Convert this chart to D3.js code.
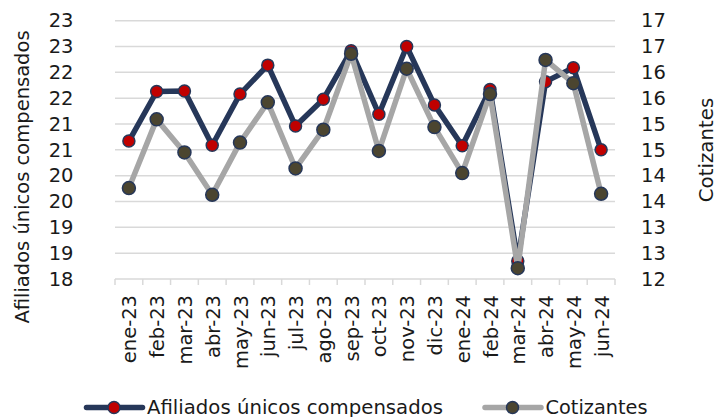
<!DOCTYPE html>
<html>
<head>
<meta charset="utf-8">
<script src="https://cdn.jsdelivr.net/npm/d3@7"></script>
<style>
  body { margin: 0; background: #fff; }
  svg { display: block; font-family: "DejaVu Sans", Verdana, sans-serif; }
</style>
</head>
<body>
<svg></svg>
<script>
var width = 719,
    height = 417;

var months = ["ene-23", "feb-23", "mar-23", "abr-23", "may-23", "jun-23", "jul-23", "ago-23", "sep-23",
              "oct-23", "nov-23", "dic-23", "ene-24", "feb-24", "mar-24", "abr-24", "may-24", "jun-24"];
var afiliados = [20.67, 21.63, 21.64, 20.59, 21.58, 22.14, 20.96, 21.48, 22.42,
                 21.19, 22.50, 21.37, 20.58, 21.67, 18.35, 21.82, 22.09, 20.50];
var cotizantes = [13.76, 15.09, 14.45, 13.63, 14.64, 15.42, 14.14, 14.89, 16.36,
                  14.48, 16.07, 14.94, 14.05, 15.58, 12.21, 16.24, 15.79, 13.65];
var leftTicks = [18, 18.5, 19, 19.5, 20, 20.5, 21, 21.5, 22, 22.5, 23];
var rightTicks = [12, 12.5, 13, 13.5, 14, 14.5, 15, 15.5, 16, 16.5, 17];
var names = ["Afiliados únicos compensados", "Cotizantes"];

var margin = {top: 20.7, right: 104, bottom: 138, left: 115};
var ink = "#1a1a1a";

var svg = d3.select("svg")
    .attr("width", width)
    .attr("height", height);

var x = d3.scaleBand()
    .domain(months)
    .range([margin.left, width - margin.right]);

var yLeft = d3.scaleLinear()
    .domain([18, 23])
    .range([height - margin.bottom, margin.top]);

var yRight = d3.scaleLinear()
    .domain([12, 17])
    .range([height - margin.bottom, margin.top]);

var fmt = function(d) { return Math.round(d); };

// grid
svg.append("g")
    .selectAll("line")
    .data(leftTicks.slice(1))
    .enter()
    .append("line")
    .attr("x1", margin.left)
    .attr("x2", width - margin.right)
    .attr("y1", function(d) { return yLeft(d); })
    .attr("y2", function(d) { return yLeft(d); })
    .attr("stroke", "#d9d9d9")
    .attr("stroke-width", 1.5);

// left axis
var gl = svg.append("g")
    .attr("transform", "translate(" + 73.5 + ",0)")
    .call(d3.axisLeft(yLeft).tickValues(leftTicks).tickFormat(fmt).tickSize(0).tickPadding(0));
gl.select(".domain").remove();
gl.selectAll("text")
    .attr("font-size", 19.5)
    .attr("fill", ink)
    .attr("font-family", "DejaVu Sans");

// right axis
var gr = svg.append("g")
    .attr("transform", "translate(" + 641 + ",0)")
    .call(d3.axisRight(yRight).tickValues(rightTicks).tickFormat(fmt).tickSize(0).tickPadding(0));
gr.select(".domain").remove();
gr.selectAll("text")
    .attr("font-size", 19.5)
    .attr("fill", ink)
    .attr("font-family", "DejaVu Sans");

// bottom axis: line + ticks at band edges
var base = height - margin.bottom;
svg.append("line")
    .attr("x1", margin.left)
    .attr("x2", width - margin.right)
    .attr("y1", base)
    .attr("y2", base)
    .attr("stroke", "#d9d9d9")
    .attr("stroke-width", 1.5);

svg.append("g")
    .selectAll("line")
    .data(months.concat(["end"]))
    .enter()
    .append("line")
    .attr("x1", function(d, i) { return margin.left + i * x.step(); })
    .attr("x2", function(d, i) { return margin.left + i * x.step(); })
    .attr("y1", base)
    .attr("y2", base + 6)
    .attr("stroke", "#d9d9d9")
    .attr("stroke-width", 1.5);

svg.append("g")
    .selectAll("text")
    .data(months)
    .enter()
    .append("text")
    .attr("transform", function(d) {
        return "translate(" + (x(d) + x.bandwidth() / 2 + 7.5) + "," + (base + 16) + ") rotate(-90)";
    })
    .attr("text-anchor", "end")
    .attr("font-size", 19.5)
    .attr("fill", ink)
    .text(function(d) { return d; });

// axis titles
svg.append("text")
    .attr("transform", "translate(29,177) rotate(-90)")
    .attr("text-anchor", "middle")
    .attr("font-size", 19.5)
    .attr("fill", ink)
    .text(names[0]);

svg.append("text")
    .attr("transform", "translate(713,150) rotate(-90)")
    .attr("text-anchor", "middle")
    .attr("font-size", 19.8)
    .attr("fill", ink)
    .text(names[1]);

// series
var cx = function(d, i) { return x(months[i]) + x.bandwidth() / 2; };

var lineL = d3.line()
    .x(cx)
    .y(function(d) { return yLeft(d); });

var lineR = d3.line()
    .x(cx)
    .y(function(d) { return yRight(d); });

svg.append("path")
    .attr("d", lineL(afiliados))
    .attr("fill", "none")
    .attr("stroke", "#263759")
    .attr("stroke-width", 5.5)
    .attr("stroke-linejoin", "round");

svg.append("g")
    .selectAll("circle")
    .data(afiliados)
    .enter()
    .append("circle")
    .attr("cx", cx)
    .attr("cy", function(d) { return yLeft(d); })
    .attr("r", 6)
    .attr("fill", "#c00000")
    .attr("stroke", "#263759")
    .attr("stroke-width", 1.5);

svg.append("path")
    .attr("d", lineR(cotizantes))
    .attr("fill", "none")
    .attr("stroke", "#a6a6a6")
    .attr("stroke-width", 5.5)
    .attr("stroke-linejoin", "round");

svg.append("g")
    .selectAll("circle")
    .data(cotizantes)
    .enter()
    .append("circle")
    .attr("cx", cx)
    .attr("cy", function(d) { return yRight(d); })
    .attr("r", 6.5)
    .attr("fill", "#4b4530")
    .attr("stroke", "#263759")
    .attr("stroke-width", 1.5);

// legend
var legend = [
    {name: names[0], x: 86.5, line: "#263759", dot: "#c00000", r: 6, len: 296},
    {name: names[1], x: 485, line: "#a6a6a6", dot: "#4b4530", r: 6, len: 102}
];
var lg = svg.append("g")
    .selectAll("g")
    .data(legend)
    .enter()
    .append("g")
    .attr("transform", function(d) { return "translate(" + d.x + ",407.5)"; });

lg.append("line")
    .attr("x1", 0)
    .attr("x2", 56)
    .attr("stroke", function(d) { return d.line; })
    .attr("stroke-width", 5.5)
    .attr("stroke-linecap", "round");

lg.append("circle")
    .attr("cx", 27.5)
    .attr("r", function(d) { return d.r; })
    .attr("fill", function(d) { return d.dot; })
    .attr("stroke", "#263759")
    .attr("stroke-width", 1.5);

lg.append("text")
    .attr("x", 60.5)
    .attr("y", 6)
    .attr("font-size", 19)
    .attr("textLength", function(d) { return d.len; })
    .attr("lengthAdjust", "spacingAndGlyphs")
    .attr("fill", ink)
    .text(function(d) { return d.name; });
</script>
</body>
</html>
